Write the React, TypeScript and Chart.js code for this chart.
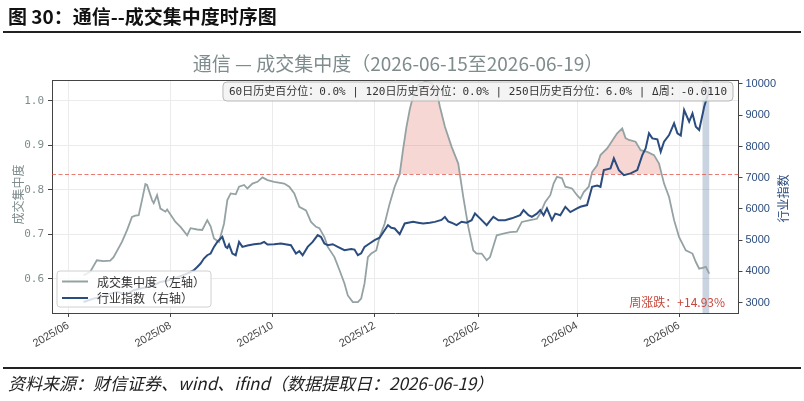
import React, { useEffect, useRef } from "react";
import { Chart, registerables } from "chart.js";
Chart.register(...registerables);

// ---------------- data ----------------
const BASE_DATE = "2025-06-01";
const WEEK_START = "2026-06-15";
const WEEK_END = "2026-06-19";
const THRESHOLD = 0.835;

const X_TICK_DATES = ["2025-06-01", "2025-08-01", "2025-10-01", "2025-12-01", "2026-02-01", "2026-04-01", "2026-06-01"];
const X_TICK_LABELS = ["2025/06", "2025/08", "2025/10", "2025/12", "2026/02", "2026/04", "2026/06"];
const LEFT_TICKS = [0.6, 0.7, 0.8, 0.9, 1.0];
const RIGHT_TICKS = [3000, 4000, 5000, 6000, 7000, 8000, 9000, 10000];

const grayDates = [
  "2025-06-10", "2025-06-14", "2025-06-18", "2025-06-22", "2025-06-26", "2025-06-28", "2025-07-03", "2025-07-06",
  "2025-07-09", "2025-07-11", "2025-07-13", "2025-07-15", "2025-07-17", "2025-07-18", "2025-07-21", "2025-07-22",
  "2025-07-24", "2025-07-26", "2025-07-29", "2025-07-30", "2025-08-04", "2025-08-07", "2025-08-11", "2025-08-13",
  "2025-08-17", "2025-08-20", "2025-08-23", "2025-08-25", "2025-08-27", "2025-08-30", "2025-09-02", "2025-09-04",
  "2025-09-06", "2025-09-09", "2025-09-11", "2025-09-14", "2025-09-16", "2025-09-19", "2025-09-22", "2025-09-25",
  "2025-09-28", "2025-10-02", "2025-10-08", "2025-10-11", "2025-10-14", "2025-10-17", "2025-10-21", "2025-10-24",
  "2025-10-27", "2025-10-29", "2025-11-01", "2025-11-03", "2025-11-07", "2025-11-10", "2025-11-13", "2025-11-15",
  "2025-11-18", "2025-11-21", "2025-11-23", "2025-11-25", "2025-11-27", "2025-11-29", "2025-12-02", "2025-12-04",
  "2025-12-07", "2025-12-10", "2025-12-13", "2025-12-16", "2025-12-18", "2025-12-20", "2025-12-22", "2025-12-24",
  "2025-12-27", "2025-12-31", "2026-01-04", "2026-01-07", "2026-01-09", "2026-01-12", "2026-01-16", "2026-01-20",
  "2026-01-23", "2026-01-26", "2026-01-29", "2026-01-31", "2026-02-03", "2026-02-06", "2026-02-08", "2026-02-12",
  "2026-02-16", "2026-02-20", "2026-02-24", "2026-02-27", "2026-03-04", "2026-03-08", "2026-03-10", "2026-03-13",
  "2026-03-16", "2026-03-18", "2026-03-20", "2026-03-23", "2026-03-25", "2026-03-29", "2026-04-01", "2026-04-03",
  "2026-04-05", "2026-04-08", "2026-04-10", "2026-04-13", "2026-04-15", "2026-04-19", "2026-04-23", "2026-04-25",
  "2026-04-28", "2026-04-30", "2026-05-02", "2026-05-06", "2026-05-09", "2026-05-13", "2026-05-17", "2026-05-20",
  "2026-05-23", "2026-05-26", "2026-05-29", "2026-06-01", "2026-06-05", "2026-06-09", "2026-06-11", "2026-06-13",
  "2026-06-15", "2026-06-17", "2026-06-19",
];
const grayValues = [
  0.608, 0.616, 0.642, 0.640, 0.641, 0.649, 0.683, 0.709,
  0.739, 0.742, 0.743, 0.777, 0.813, 0.811, 0.777, 0.770,
  0.788, 0.758, 0.751, 0.756, 0.728, 0.717, 0.698, 0.714,
  0.711, 0.710, 0.732, 0.718, 0.691, 0.683, 0.724, 0.777,
  0.792, 0.790, 0.807, 0.811, 0.803, 0.814, 0.818, 0.828,
  0.822, 0.818, 0.814, 0.807, 0.792, 0.762, 0.754, 0.728,
  0.717, 0.714, 0.694, 0.672, 0.649, 0.620, 0.590, 0.563,
  0.548, 0.548, 0.556, 0.590, 0.649, 0.657, 0.664, 0.694,
  0.724, 0.769, 0.807, 0.835, 0.890, 0.940, 0.980, 1.010,
  1.035, 1.042, 1.040, 1.024, 0.987, 0.942, 0.897, 0.859,
  0.784, 0.717, 0.664, 0.657, 0.657, 0.642, 0.649, 0.698,
  0.702, 0.705, 0.706, 0.728, 0.732, 0.735, 0.747, 0.773,
  0.788, 0.814, 0.829, 0.826, 0.807, 0.803, 0.788, 0.780,
  0.795, 0.807, 0.840, 0.855, 0.878, 0.893, 0.916, 0.927,
  0.938, 0.916, 0.912, 0.908, 0.889, 0.885, 0.878, 0.859,
  0.814, 0.784, 0.732, 0.694, 0.664, 0.657, 0.638, 0.623,
  0.625, 0.627, 0.612,
];

const blueDates = [
  "2025-06-10", "2025-06-16", "2025-06-22", "2025-06-26", "2025-06-30", "2025-07-06", "2025-07-10", "2025-07-14",
  "2025-07-18", "2025-07-22", "2025-07-26", "2025-07-30", "2025-08-03", "2025-08-07", "2025-08-11", "2025-08-13",
  "2025-08-15", "2025-08-17", "2025-08-19", "2025-08-21", "2025-08-23", "2025-08-25", "2025-08-27", "2025-08-29",
  "2025-08-31", "2025-09-01", "2025-09-03", "2025-09-04", "2025-09-05", "2025-09-07", "2025-09-09", "2025-09-11",
  "2025-09-13", "2025-09-16", "2025-09-20", "2025-09-24", "2025-09-26", "2025-09-28", "2025-10-02", "2025-10-06",
  "2025-10-12", "2025-10-15", "2025-10-17", "2025-10-19", "2025-10-22", "2025-10-25", "2025-10-28", "2025-10-30",
  "2025-11-01", "2025-11-03", "2025-11-06", "2025-11-09", "2025-11-13", "2025-11-17", "2025-11-19", "2025-11-21",
  "2025-11-23", "2025-11-25", "2025-11-28", "2025-12-01", "2025-12-04", "2025-12-07", "2025-12-09", "2025-12-11",
  "2025-12-13", "2025-12-16", "2025-12-19", "2025-12-24", "2025-12-27", "2025-12-30", "2026-01-03", "2026-01-06",
  "2026-01-10", "2026-01-12", "2026-01-14", "2026-01-16", "2026-01-19", "2026-01-22", "2026-01-25", "2026-01-28",
  "2026-01-30", "2026-02-02", "2026-02-06", "2026-02-08", "2026-02-10", "2026-02-13", "2026-02-17", "2026-02-21",
  "2026-02-26", "2026-02-28", "2026-03-03", "2026-03-05", "2026-03-08", "2026-03-10", "2026-03-12", "2026-03-14",
  "2026-03-17", "2026-03-19", "2026-03-22", "2026-03-25", "2026-03-28", "2026-04-01", "2026-04-03", "2026-04-07",
  "2026-04-10", "2026-04-13", "2026-04-15", "2026-04-17", "2026-04-21", "2026-04-23", "2026-04-26", "2026-04-29",
  "2026-05-03", "2026-05-07", "2026-05-10", "2026-05-12", "2026-05-14", "2026-05-16", "2026-05-19", "2026-05-21",
  "2026-05-23", "2026-05-26", "2026-05-29", "2026-05-31", "2026-06-02", "2026-06-04", "2026-06-07", "2026-06-09",
  "2026-06-11", "2026-06-13", "2026-06-16", "2026-06-19",
];
const blueValues = [
  3023, 3131, 3205, 3291, 3344, 3270, 3398, 3452,
  3504, 3558, 3664, 3700, 3772, 3850, 3933, 3985,
  4039, 4145, 4253, 4413, 4519, 4574, 4786, 4946,
  5055, 5106, 4786, 4750, 4860, 4574, 4519, 4946,
  4786, 4830, 4872, 4894, 4946, 4860, 4872, 4894,
  4840, 4574, 4650, 4519, 4786, 4946, 5161, 5100,
  4894, 4840, 4872, 4790, 4680, 4720, 4700, 4519,
  4580, 4786, 4894, 5000, 5080, 5320, 5481, 5400,
  5375, 5192, 5535, 5587, 5560, 5535, 5560, 5587,
  5650, 5747, 5600, 5560, 5481, 5590, 5560, 5640,
  5856, 5700, 5481, 5620, 5747, 5640, 5641, 5700,
  5802, 5962, 5800, 5747, 5850, 5962, 5800, 6016,
  5641, 5850, 5800, 6070, 5900, 6016, 6070, 6124,
  6710, 6750, 6710, 7244, 7298, 7619, 7244, 7083,
  7140, 7244, 7725, 7939, 8420, 8260, 8228, 7830,
  8151, 8365, 8740, 8420, 8350, 9167, 8792, 9059,
  8631, 8526, 9272, 9808,
];

const TITLE_TEXT = "通信 — 成交集中度（2026-06-15至2026-06-19）";
const HEADER_TEXT = "图 30：通信--成交集中度时序图";
const FOOTER_TEXT = "资料来源：财信证券、wind、ifind（数据提取日：2026-06-19）";
const STATS_TEXT = "60日历史百分位：0.0% | 120日历史百分位：0.0% | 250日历史百分位：6.0% | Δ周：-0.0110";
const WEEK_CHANGE_TEXT = "周涨跌：+14.93%";
const GRAY_LABEL = "成交集中度（左轴）";
const BLUE_LABEL = "行业指数（右轴）";
const LEFT_AXIS_TITLE = "成交集中度";
const RIGHT_AXIS_TITLE = "行业指数";

// ---------------- styles ----------------
const GRAY = "#95a2a3";
const BLUE = "#2b4c7e";
const PINK = "rgba(222, 80, 68, 0.23)";
const GRID = "#ebebeb";
const SPINE = "#444";
const CJK = "'Noto Sans CJK SC', 'Noto Sans', sans-serif";

function dayOf(s: string): number {
  const [y, m, d] = s.split("-").map(Number);
  const [by, bm, bd] = BASE_DATE.split("-").map(Number);
  return (Date.UTC(y, m - 1, d) - Date.UTC(by, bm - 1, bd)) / 86400000;
}

function fitFont(ctx: CanvasRenderingContext2D, text: string, style: string, family: string, maxPx: number, width: number) {
  let s = maxPx;
  while (s > 6) {
    ctx.font = `${style} ${s}px ${family}`;
    if (ctx.measureText(text).width <= width) break;
    s -= 0.25;
  }
  return s;
}

function roundRect(ctx: CanvasRenderingContext2D, x: number, y: number, w: number, h: number, r: number) {
  ctx.beginPath();
  ctx.moveTo(x + r, y);
  ctx.lineTo(x + w - r, y);
  ctx.arcTo(x + w, y, x + w, y + r, r);
  ctx.lineTo(x + w, y + h - r);
  ctx.arcTo(x + w, y + h, x + w - r, y + h, r);
  ctx.lineTo(x + r, y + h);
  ctx.arcTo(x, y + h, x, y + h - r, r);
  ctx.lineTo(x, y + r);
  ctx.arcTo(x, y, x + r, y, r);
  ctx.closePath();
}

const decorPlugin = {
  id: "decor",
  beforeDatasetsDraw(chart: any) {
    const { ctx, chartArea } = chart;
    const { top, bottom, left, right } = chartArea;
    const x = chart.scales.x;
    const y = chart.scales.y;
    ctx.save();
    // week band
    const x0 = x.getPixelForValue(dayOf(WEEK_START));
    const x1 = x.getPixelForValue(dayOf(WEEK_END));
    ctx.fillStyle = "rgba(80, 108, 152, 0.30)";
    ctx.fillRect(x0, top, x1 - x0, bottom - top);
    // threshold
    const ty = Math.round(y.getPixelForValue(THRESHOLD)) + 0.5;
    ctx.strokeStyle = "rgba(228, 80, 70, 0.75)";
    ctx.lineWidth = 1;
    ctx.setLineDash([4, 2.5]);
    ctx.beginPath();
    ctx.moveTo(left, ty);
    ctx.lineTo(right, ty);
    ctx.stroke();
    ctx.restore();
  },
  afterDatasetsDraw(chart: any) {
    const { ctx, chartArea } = chart;
    const { top, bottom, left, right } = chartArea;
    ctx.save();
    // stats box
    const fs = fitFont(ctx, STATS_TEXT, "", "'DejaVu Sans Mono', 'Noto Sans CJK SC'", 12, 504);
    ctx.font = `${fs}px 'DejaVu Sans Mono', 'Noto Sans CJK SC'`;
    const tw = ctx.measureText(STATS_TEXT).width;
    const bw = tw + 12;
    const bx = right - 5.5 - bw;
    const by = top + 2;
    roundRect(ctx, bx, by, bw, 19, 4);
    ctx.fillStyle = "rgba(242, 242, 242, 0.85)";
    ctx.fill();
    ctx.strokeStyle = "#b8b8b8";
    ctx.lineWidth = 1;
    ctx.stroke();
    ctx.fillStyle = "#333";
    ctx.textAlign = "left";
    ctx.textBaseline = "middle";
    ctx.fillText(STATS_TEXT, bx + 6, by + 10);

    // legend
    const lx = left + 5;
    const lyTop = bottom - 42;
    ctx.font = `12px ${CJK}`;
    const lw = Math.max(ctx.measureText(GRAY_LABEL).width, ctx.measureText(BLUE_LABEL).width);
    const legW = 40 + lw + 6;
    roundRect(ctx, lx, lyTop, legW, 36, 3);
    ctx.fillStyle = "rgba(255,255,255,0.82)";
    ctx.fill();
    ctx.strokeStyle = "#d0d0d0";
    ctx.stroke();
    const rows = [
      { label: GRAY_LABEL, color: GRAY, y: lyTop + 10.5, w: 2 },
      { label: BLUE_LABEL, color: BLUE, y: lyTop + 27, w: 2 },
    ];
    for (const r of rows) {
      ctx.strokeStyle = r.color;
      ctx.lineWidth = r.w;
      ctx.beginPath();
      ctx.moveTo(lx + 5, r.y);
      ctx.lineTo(lx + 31, r.y);
      ctx.stroke();
      ctx.fillStyle = "#333";
      ctx.fillText(r.label, lx + 40, r.y + 0.5);
    }

    // weekly change
    const fw = fitFont(ctx, WEEK_CHANGE_TEXT, "", CJK, 13, 97);
    ctx.font = `${fw}px ${CJK}`;
    ctx.fillStyle = "#c8473b";
    ctx.textAlign = "right";
    ctx.fillText(WEEK_CHANGE_TEXT, right - 13.5, bottom - 10.5);
    ctx.restore();
  },
  afterDraw(chart: any) {
    const { ctx, chartArea } = chart;
    const { top, bottom, left, right } = chartArea;
    ctx.save();
    // top spine
    ctx.strokeStyle = SPINE;
    ctx.lineWidth = 1;
    ctx.beginPath();
    ctx.moveTo(left, Math.round(top) + 0.5);
    ctx.lineTo(right, Math.round(top) + 0.5);
    ctx.stroke();

    // header
    const hs = fitFont(ctx, HEADER_TEXT, "bold", CJK, 19, 294);
    ctx.font = `bold ${hs}px ${CJK}`;
    ctx.fillStyle = "#111";
    ctx.textAlign = "left";
    ctx.textBaseline = "middle";
    ctx.fillText(HEADER_TEXT, 8, 17);
    ctx.strokeStyle = "#222";
    ctx.lineWidth = 2;
    ctx.beginPath();
    ctx.moveTo(3, 32);
    ctx.lineTo(801, 32);
    ctx.stroke();

    // footer
    ctx.beginPath();
    ctx.moveTo(3, 368);
    ctx.lineTo(801, 368);
    ctx.stroke();
    const ffs = fitFont(ctx, FOOTER_TEXT, "italic", CJK, 17, 508);
    ctx.font = `italic ${ffs}px ${CJK}`;
    ctx.fillStyle = "#222";
    ctx.fillText(FOOTER_TEXT, 8, 384);

    // chart title
    const ts = fitFont(ctx, TITLE_TEXT, "", CJK, 19, 420);
    ctx.font = `${ts}px ${CJK}`;
    ctx.fillStyle = "#7f8c8d";
    ctx.textAlign = "center";
    ctx.fillText(TITLE_TEXT, 398, 64);

    // axis titles
    ctx.font = `12px ${CJK}`;
    ctx.save();
    ctx.translate(18, (top + bottom) / 2 - 2);
    ctx.rotate(-Math.PI / 2);
    ctx.fillStyle = "#7f8c8d";
    ctx.fillText(LEFT_AXIS_TITLE, 0, 0);
    ctx.restore();
    ctx.save();
    ctx.translate(783, (top + bottom) / 2 + 2);
    ctx.rotate(-Math.PI / 2);
    ctx.fillStyle = BLUE;
    ctx.fillText(RIGHT_AXIS_TITLE, 0, 0);
    ctx.restore();
    ctx.restore();
  },
};

export default function App() {
  const ref = useRef<HTMLCanvasElement>(null);
  useEffect(() => {
    const grayPts = grayDates.map((d, i) => ({ x: dayOf(d), y: grayValues[i] }));
    const bluePts = blueDates.map((d, i) => ({ x: dayOf(d), y: blueValues[i] }));
    const chart = new Chart(ref.current as HTMLCanvasElement, {
      type: "line",
      data: {
        datasets: [
          {
            label: GRAY_LABEL,
            data: grayPts,
            yAxisID: "y",
            borderColor: GRAY,
            backgroundColor: PINK,
            borderWidth: 1.8,
            pointRadius: 0,
            tension: 0,
            fill: { target: { value: THRESHOLD }, above: PINK, below: "rgba(0,0,0,0)" },
            order: 1,
          },
          {
            label: BLUE_LABEL,
            data: bluePts,
            yAxisID: "y1",
            borderColor: BLUE,
            borderWidth: 2,
            pointRadius: 0,
            tension: 0,
            fill: false,
            order: 0,
          },
        ],
      } as any,
      options: {
        responsive: false,
        animation: false,
        devicePixelRatio: 1,
        events: [],
        layout: { padding: { top: 80, left: 0, right: 0, bottom: 0 } },
        plugins: { legend: { display: false }, tooltip: { enabled: false }, title: { display: false } },
        scales: {
          x: {
            type: "linear",
            min: -9.8,
            max: 400.5,
            afterBuildTicks: (s: any) => {
              s.ticks = X_TICK_DATES.map((d) => ({ value: dayOf(d) }));
            },
            afterFit: (s: any) => {
              s.height = 88;
            },
            ticks: {
              autoSkip: false,
              maxRotation: 30,
              minRotation: 30,
              padding: 2,
              color: "#444",
              font: { family: "'Liberation Sans', Arial, sans-serif", size: 11 },
              callback: (_v: any, i: number) => X_TICK_LABELS[i],
            },
            grid: { color: GRID, lineWidth: 1, tickLength: 4, tickColor: SPINE, drawTicks: true },
            border: { display: true, color: SPINE, width: 1 },
          },
          y: {
            type: "linear",
            position: "left",
            min: 0.5236,
            max: 1.0465,
            afterBuildTicks: (s: any) => {
              s.ticks = LEFT_TICKS.map((v) => ({ value: v }));
            },
            afterFit: (s: any) => {
              s.width = 52;
            },
            ticks: {
              padding: 4,
              color: "#7f8c8d",
              font: { family: "'DejaVu Sans Mono', monospace", size: 11 },
              callback: (v: any) => Number(v).toFixed(1),
            },
            grid: { color: GRID, lineWidth: 1, tickLength: 4, tickColor: SPINE },
            border: { display: true, color: SPINE, width: 1 },
          },
          y1: {
            type: "linear",
            position: "right",
            min: 2670,
            max: 10128,
            afterBuildTicks: (s: any) => {
              s.ticks = RIGHT_TICKS.map((v) => ({ value: v }));
            },
            afterFit: (s: any) => {
              s.width = 65.5;
            },
            ticks: {
              padding: 3,
              color: BLUE,
              font: { family: "'Liberation Sans', Arial, sans-serif", size: 11 },
              callback: (v: any) => String(v),
            },
            grid: { drawOnChartArea: false, tickLength: 4, tickColor: SPINE },
            border: { display: true, color: SPINE, width: 1 },
          },
        },
      } as any,
      plugins: [decorPlugin],
    });
    return () => chart.destroy();
  }, []);
  return (
    <div style={{ position: "fixed", left: 0, top: 0, width: 804, height: 401, background: "#fff" }}>
      <canvas ref={ref} width={804} height={401} style={{ width: 804, height: 401, display: "block" }} />
    </div>
  );
}
